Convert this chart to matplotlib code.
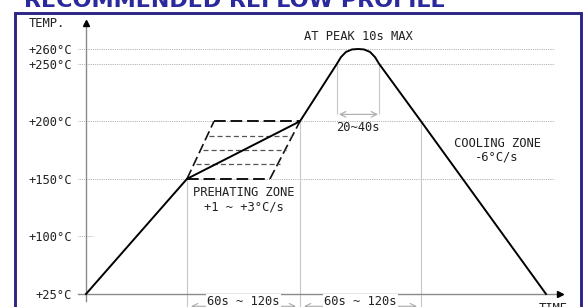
import numpy as np
import matplotlib
matplotlib.use('Agg')
import matplotlib.pyplot as plt
from matplotlib.patches import Rectangle

W, H = 586, 307
MONO = 'DejaVu Sans Mono'
FS = 8.7

# Schematic temperature axis: ticks are evenly spaced, not to scale
temp_ticks = [25, 100, 150, 200, 250, 260]
tick_labels = ['+25°C', '+100°C', '+150°C', '+200°C', '+250°C', '+260°C']
tick_levels = [0, 1, 2, 3, 4, 4.255]
grid_temps = [150, 200, 250, 260]

# Reflow profile (time in arbitrary schematic units)
profile_t = [0, 101, 214, 251, 255, 260, 266, 272, 278, 284, 289, 293, 335, 460]
profile_T = [25, 150, 200, 250, 254.5, 258, 259.7, 260, 259.7, 258, 254.5, 250, 200, 25]

# Preheating zone (dashed parallelogram)
preheat_left_t = [101, 128]
preheat_right_t = [184, 214]
preheat_side_T = [150, 200]
preheat_edge_T = [150, 200]
preheat_edge_t0 = [101, 128]
preheat_edge_t1 = [184, 214]
preheat_inner_T = [162.5, 175, 187.5]
preheat_inner_t0 = [110, 117, 123]
preheat_inner_t1 = [194, 200, 206]

zone_bounds = [101, 214, 335]
zone_tops = [150, 200, 200]
peak_bounds = [251, 293]
peak_arrow_T = 206


def fwd(v):
    return np.interp(v, temp_ticks, tick_levels)


def inv(v):
    return np.interp(v, tick_levels, temp_ticks)


fig = plt.figure(figsize=(W / 100, H / 100), dpi=100)
fig.patch.set_facecolor('white')
ax = fig.add_axes([86 / W, (H - 294) / H, 476 / W, (294 - 49) / H])
ax.set_yscale('function', functions=(fwd, inv))
ax.set_xlim(0, 476)
ax.set_ylim(25, 260)
for s in ax.spines.values():
    s.set_visible(False)
ax.set_xticks([])
ax.set_yticks(temp_ticks, tick_labels)
ax.tick_params(axis='y', length=0, pad=10)
for lab in ax.get_yticklabels():
    lab.set_fontfamily(MONO)
    lab.set_fontsize(FS)
    lab.set_color('#222222')

xt = ax.get_xaxis_transform()

# grid lines
ax.hlines(grid_temps, -8, 468, colors='#9a9a9a', linestyles=(0, (1, 1.2)), lw=0.6, clip_on=False)
ax.hlines(100, -8, 7, colors='#9a9a9a', linestyles=(0, (1, 1.2)), lw=0.6, clip_on=False)

# zone boundaries
ax.vlines(zone_bounds, 25, zone_tops, colors='#c8c8c8', lw=0.8, clip_on=False)
ax.vlines(zone_bounds, -0.06, 0, colors='#c8c8c8', lw=0.8, transform=xt, clip_on=False)
ax.vlines(peak_bounds, peak_arrow_T, 250, colors='#c8c8c8', lw=0.8)

# axes with arrows
ax.plot([-8, 476], [25, 25], color='#8a8a8a', lw=1.0, clip_on=False, zorder=3)
ax.plot([474], [25], marker='>', ms=4, color='black', clip_on=False, zorder=4)
ax.plot([0, 0], [-0.03, 1.11], color='#8a8a8a', lw=1.0, transform=xt, clip_on=False, zorder=3)
ax.plot([0], [1.105], marker='^', ms=4, color='black', transform=xt, clip_on=False, zorder=4)

# profile
ax.plot(profile_t, profile_T, color='black', lw=1.4, solid_joinstyle='round', zorder=5, clip_on=False)

# preheating zone
ax.plot(preheat_left_t, preheat_side_T, color='#111111', lw=1.2, ls=(0, (6, 2.5)))
ax.plot(preheat_right_t, preheat_side_T, color='#111111', lw=1.2, ls=(0, (6, 2.5)))
ax.hlines(preheat_edge_T, preheat_edge_t0, preheat_edge_t1, colors='#111111', lw=1.4,
          linestyles=(0, (6, 2.5)))
ax.hlines(preheat_inner_T, preheat_inner_t0, preheat_inner_t1, colors='#555555', lw=0.9,
          linestyles=(0, (4, 2.5)))

# peak time arrow
ax.annotate('', xy=(253, peak_arrow_T), xytext=(292, peak_arrow_T),
            arrowprops=dict(arrowstyle='<->', color='#aaaaaa', lw=0.8,
                            shrinkA=0, shrinkB=0))

txt = dict(fontfamily=MONO, fontsize=FS, color='#222222', ha='center', va='center')
ax.text(272, 1.049, 'AT PEAK 10s MAX', transform=xt, **txt)
ax.text(272, 195, '20~40s', **txt)
ax.text(158, 137.8, 'PREHATING ZONE', **txt)
ax.text(158, 125.7, '+1 ~ +3°C/s', **txt)
ax.text(411, 181, 'COOLING ZONE', **txt)
ax.text(411, 169, '-6°C/s', **txt)
ax.text(-39, 1.106, 'TEMP.', transform=xt, **txt)
ax.text(467, -0.033, 'TIME', transform=xt, fontfamily=MONO, fontsize=FS, color='#222222',
        ha='center', va='top')

# duration arrows under the axis
for a, b in [(zone_bounds[0], zone_bounds[1]), (zone_bounds[1], zone_bounds[2])]:
    ax.annotate('', xy=(a + 4, -0.05), xytext=(b - 4, -0.05), xycoords=xt, textcoords=xt,
                arrowprops=dict(arrowstyle='<->', color='#aaaaaa', lw=0.8,
                                shrinkA=0, shrinkB=0), annotation_clip=False)
    ax.text((a + b) / 2, -0.03, '60s ~ 120s', transform=xt, clip_on=False,
            bbox=dict(facecolor='white', edgecolor='none', pad=1), **txt)

# blue frame and title
fig.add_artist(Rectangle((15 / W, -0.1), (581 - 15) / W, 1.1 - 13.5 / H,
                         transform=fig.transFigure, fill=False,
                         edgecolor='#2b2585', lw=2.1))
fig.text(24 / W, 1 - 7 / H, 'RECOMMENDED REFLOW PROFILE', fontsize=16, fontweight='bold',
         color='#2a2a9c', va='baseline', ha='left')

fig.savefig('out.png', dpi=100)
